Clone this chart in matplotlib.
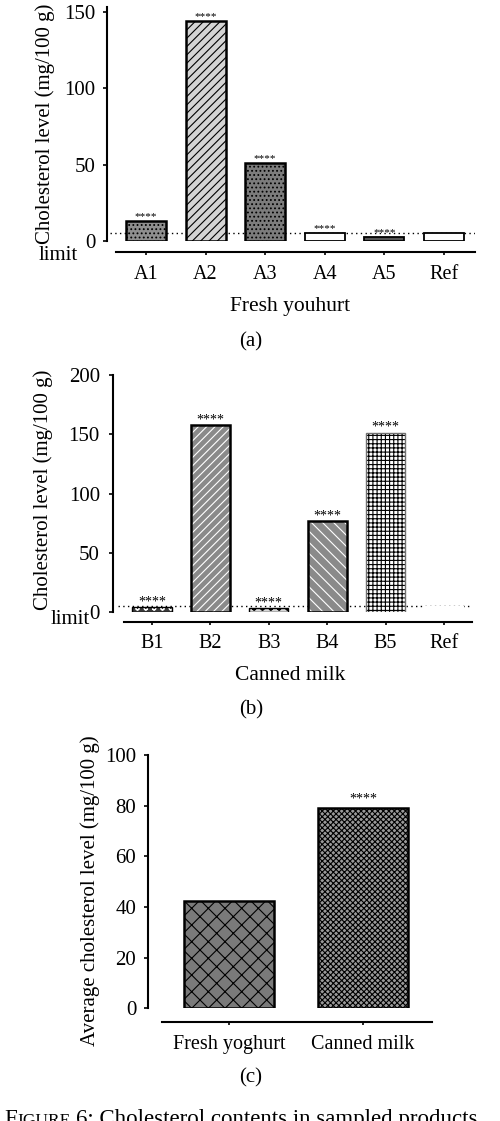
import matplotlib
matplotlib.use("Agg")
import matplotlib.pyplot as plt

# ---------------- data ----------------
a_cats = ["A1", "A2", "A3", "A4", "A5", "Ref"]
a_vals = [13, 144, 51, 5, 2.5, 5.3]
a_sig = ["****", "****", "****", "****", "****", ""]

b_cats = ["B1", "B2", "B3", "B4", "B5", "Ref"]
b_vals = [4.2, 158, 3.6, 77, 151.5, 5.5]
b_sig = ["****", "****", "****", "****", "****", ""]

c_cats = ["Fresh yoghurt", "Canned milk"]
c_vals = [42.5, 79]
c_sig = ["", "****"]

limit_value = 5

a_ticks = [0, 50, 100, 150]
b_ticks = [0, 50, 100, 150, 200]
c_ticks = [0, 20, 40, 60, 80, 100]

# ---------------- style ----------------
plt.rcParams["font.family"] = ["Liberation Serif", "DejaVu Serif"]
plt.rcParams["hatch.linewidth"] = 0.8

W, H = 500, 1121
fig = plt.figure(figsize=(W / 100, H / 100), dpi=100)


def make_ax(left, right, top, bottom):
    return fig.add_axes([left / W, 1 - bottom / H, (right - left) / W, (bottom - top) / H])


def style_ax(ax, xlim, xbounds, ylim, yticks, outward_px, pad_x, pad_y):
    ax.set_xlim(*xlim)
    ax.set_ylim(*ylim)
    for s in ["top", "right"]:
        ax.spines[s].set_visible(False)
    ax.spines["left"].set_linewidth(1.5)
    ax.spines["bottom"].set_linewidth(1.5)
    ax.spines["bottom"].set_position(("outward", outward_px * 0.72))
    ax.spines["bottom"].set_bounds(*xbounds)
    ax.set_yticks(yticks)
    ax.tick_params(axis="y", direction="out", length=3, width=1.2, labelsize=15, pad=pad_y)
    ax.tick_params(axis="x", direction="out", length=2, width=1.2, labelsize=14.5, pad=pad_x)
    ax.patch.set_alpha(0)


def draw_bars(ax, x, vals, faces, hatches, hcolors, edges, lws, width=0.67):
    for xi, v, fc, hh, hc, ec, lw in zip(x, vals, faces, hatches, hcolors, edges, lws):
        ax.bar(xi, v, width=width, color=fc, hatch=hh, edgecolor=hc, linewidth=0, zorder=3)
        ax.bar(xi, v, width=width, fill=False, edgecolor=ec, linewidth=lw, zorder=4)


def stars(ax, x, vals, sig, fs, off):
    for xi, v, s in zip(x, vals, sig):
        if s:
            ax.annotate(s, (xi, v), xytext=(0, off), textcoords="offset points",
                        ha="center", va="bottom", fontsize=fs)


def px_text(x, y, s, **kw):
    fig.text(x / W, 1 - y / H, s, **kw)


# ---------------- panel (a) ----------------
axa = make_ax(107, 475, 241 - 153 * 1.527, 241)
xa = list(range(len(a_cats)))
style_ax(axa, (-0.654, 5.52), (-0.5, 5.52), (0, 153), a_ticks, 11, 7.5, 5.5)
axa.set_xticks(xa)
axa.set_xticklabels(a_cats)
axa.hlines(limit_value, -0.60, 5.52, colors="black", linestyles=(0, (1, 2.4)), linewidth=1.0, zorder=2)
draw_bars(axa, xa, a_vals,
          ["#8f8f8f", "#d4d4d4", "#7c7c7c", "white", "#555555", "white"],
          ["....", "////", "....", None, None, None],
          ["black", "black", "black", "black", "black", "black"],
          ["black", "black", "black", "black", "black", "black"],
          [1.8, 1.8, 1.8, 1.3, 1.3, 1.3])
stars(axa, xa, a_vals, a_sig, 8, 0)
px_text(45, 124, "Cholesterol level (mg/100 g)", rotation=90, ha="center", va="center", fontsize=15)
px_text(58, 256, "limit", ha="center", va="center", fontsize=15)
px_text(290, 307, "Fresh youhurt", ha="center", va="center", fontsize=15.5)
px_text(251, 342, "(a)", ha="center", va="center", fontsize=15)

# ---------------- panel (b) ----------------
axb = make_ax(113, 472, 375, 612.3)
xb = list(range(len(b_cats)))
style_ax(axb, (-0.668, 5.48), (-0.48, 5.48), (0, 200), b_ticks, 10, 6.5, 6.5)
axb.set_xticks(xb)
axb.set_xticklabels(b_cats)
axb.hlines(limit_value, -0.58, 5.45, colors="black", linestyles=(0, (1, 2.4)), linewidth=1.0, zorder=2)
draw_bars(axb, xb, b_vals,
          ["#3a3a3a", "#8a8a8a", "#d8d8d8", "#8a8a8a", "white", "white"],
          ["oo", "////", "oo", "\\\\\\", "++++", None],
          ["white", "white", "black", "white", "black", "white"],
          ["black", "black", "black", "black", "#707070", "white"],
          [1.0, 1.8, 1.0, 1.8, 1.0, 0])
stars(axb, xb, b_vals, b_sig, 10, -1)
px_text(43, 490, "Cholesterol level (mg/100 g)", rotation=90, ha="center", va="center", fontsize=15)
px_text(70, 619, "limit", ha="center", va="center", fontsize=15)
px_text(290, 675, "Canned milk", ha="center", va="center", fontsize=15.5)
px_text(251, 710, "(b)", ha="center", va="center", fontsize=15)

# ---------------- panel (c) ----------------
axc = make_ax(148, 432, 755, 1008.3)
xc = list(range(len(c_cats)))
style_ax(axc, (-0.604, 1.515), (-0.5, 1.515), (0, 100), c_ticks, 13.4, 7.5, 5.5)
axc.set_xticks(xc)
axc.set_xticklabels(c_cats)
draw_bars(axc, xc, c_vals,
          ["#7a7a7a", "#9a9a9a"],
          ["xx", "xxxxxx"],
          ["black", "black"],
          ["black", "black"],
          [1.8, 1.8])
stars(axc, xc, c_vals, c_sig, 10, 2)
px_text(90, 891, "Average cholesterol level (mg/100 g)", rotation=90, ha="center", va="center", fontsize=15)
px_text(251, 1078, "(c)", ha="center", va="center", fontsize=15)

# caption (cut off at the bottom edge, as in the reference)
px_text(4, 1125, "F", ha="left", va="baseline", fontsize=16.5)
px_text(17, 1125, "IGURE", ha="left", va="baseline", fontsize=12.5)
px_text(76, 1125, "6: Cholesterol contents in sampled products.", ha="left", va="baseline", fontsize=16.5)

fig.savefig("out.png", dpi=100)
